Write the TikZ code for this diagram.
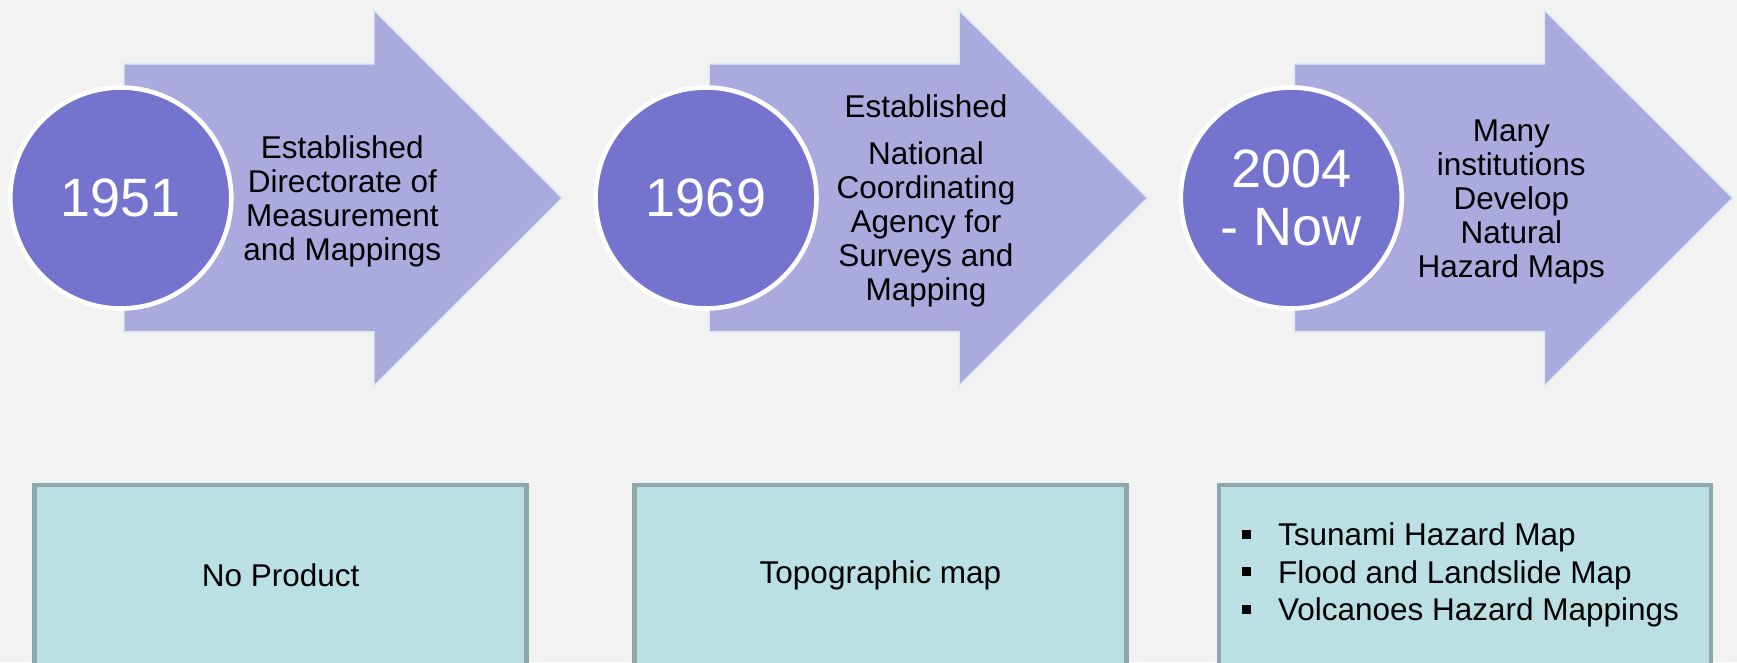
\documentclass[tikz,border=0pt]{standalone}
\usepackage{fontspec}
\setmainfont{Liberation Sans}
\usetikzlibrary{positioning, calc}

\definecolor{bgGray}{HTML}{F2F2F2}
\definecolor{arrowLilac}{HTML}{AAAADF}
\definecolor{arrowEdge}{HTML}{DCECF1}
\definecolor{circleBlue}{HTML}{7474CF}
\definecolor{boxTeal}{HTML}{BAE0E3}
\definecolor{boxEdge}{HTML}{8DA7AA}

\newcommand{\sqbullet}{\rule[7pt]{9pt}{9pt}\hspace{27pt}}

\begin{document}
\begin{tikzpicture}[
          x=1pt, y=1pt,
          node distance=20pt,
          yearcircle/.style={
              circle, fill=circleBlue, draw=white, line width=4.6pt,
              minimum size=221pt, inner sep=0pt, text=white, align=center,
              font=\fontsize{54}{58}\selectfont
          },
          arrowshape/.style={fill=arrowLilac, draw=arrowEdge, line width=1.5pt},
          eventtext/.style={align=center, inner sep=0pt, font=\fontsize{31.5}{34}\selectfont},
          product/.style={
              rectangle, draw=boxEdge, fill=boxTeal, line width=4.5pt,
              minimum width=492pt, minimum height=180pt, align=left,
              font=\fontsize{31.5}{37.5}\selectfont
          },
      ]
          % Background
          \useasboundingbox (0,0) rectangle (1737,662);
          \clip (0,0) rectangle (1737,662);
          \fill [bgGray] (0,0) rectangle (1737,662);

          \coordinate (c1951) at (120.8,464);
          \coordinate (c1969) at (706,464);
          \coordinate (c2004) at (1291.3,464);

          % Arrows
          \filldraw [arrowshape] ($(c1951)+(3,134)$) -- ++(250,0) -- ++(0,54)
              -- ++(188.5,-188) -- ++(-188.5,-188) -- ++(0,54) -- ++(-250,0) -- cycle;
          \filldraw [arrowshape] ($(c1969)+(3,134)$) -- ++(250,0) -- ++(0,54)
              -- ++(188.5,-188) -- ++(-188.5,-188) -- ++(0,54) -- ++(-250,0) -- cycle;
          \filldraw [arrowshape] ($(c2004)+(3,134)$) -- ++(250,0) -- ++(0,54)
              -- ++(188.5,-188) -- ++(-188.5,-188) -- ++(0,54) -- ++(-250,0) -- cycle;

          % Year circles
          \node [yearcircle] (y1951) at (c1951) {1951};
          \node [yearcircle] (y1969) at (c1969) {1969};
          \node [yearcircle] (y2004) at (c2004) {2004\\- Now};

          % Event texts
          \node [eventtext] (e1951) at ($(y1951.center)+(221.5,-3)$)
              {Established\\Directorate of\\Measurement\\and Mappings};
          \node [eventtext] (e1969) at ($(y1969.center)+(220,-3)$)
              {Established\\[12.5pt]National\\Coordinating\\Agency for\\Surveys and\\Mapping};
          \node [eventtext] (e2004) at ($(y2004.center)+(220,-4)$)
              {Many\\institutions\\Develop\\Natural\\Hazard Maps};

          % Product boxes
          \node [product] (p1951) at (280.7,87) {No Product};
          \node [product] (p1969) at (880.5,87) {Topographic map};
          \node [product] (p2004) at (1465,87)
              {\sqbullet Tsunami Hazard Map\\\sqbullet Flood and Landslide Map\\\sqbullet Volcanoes Hazard Mappings\hspace*{9pt}};
        \end{tikzpicture}
\end{document}
